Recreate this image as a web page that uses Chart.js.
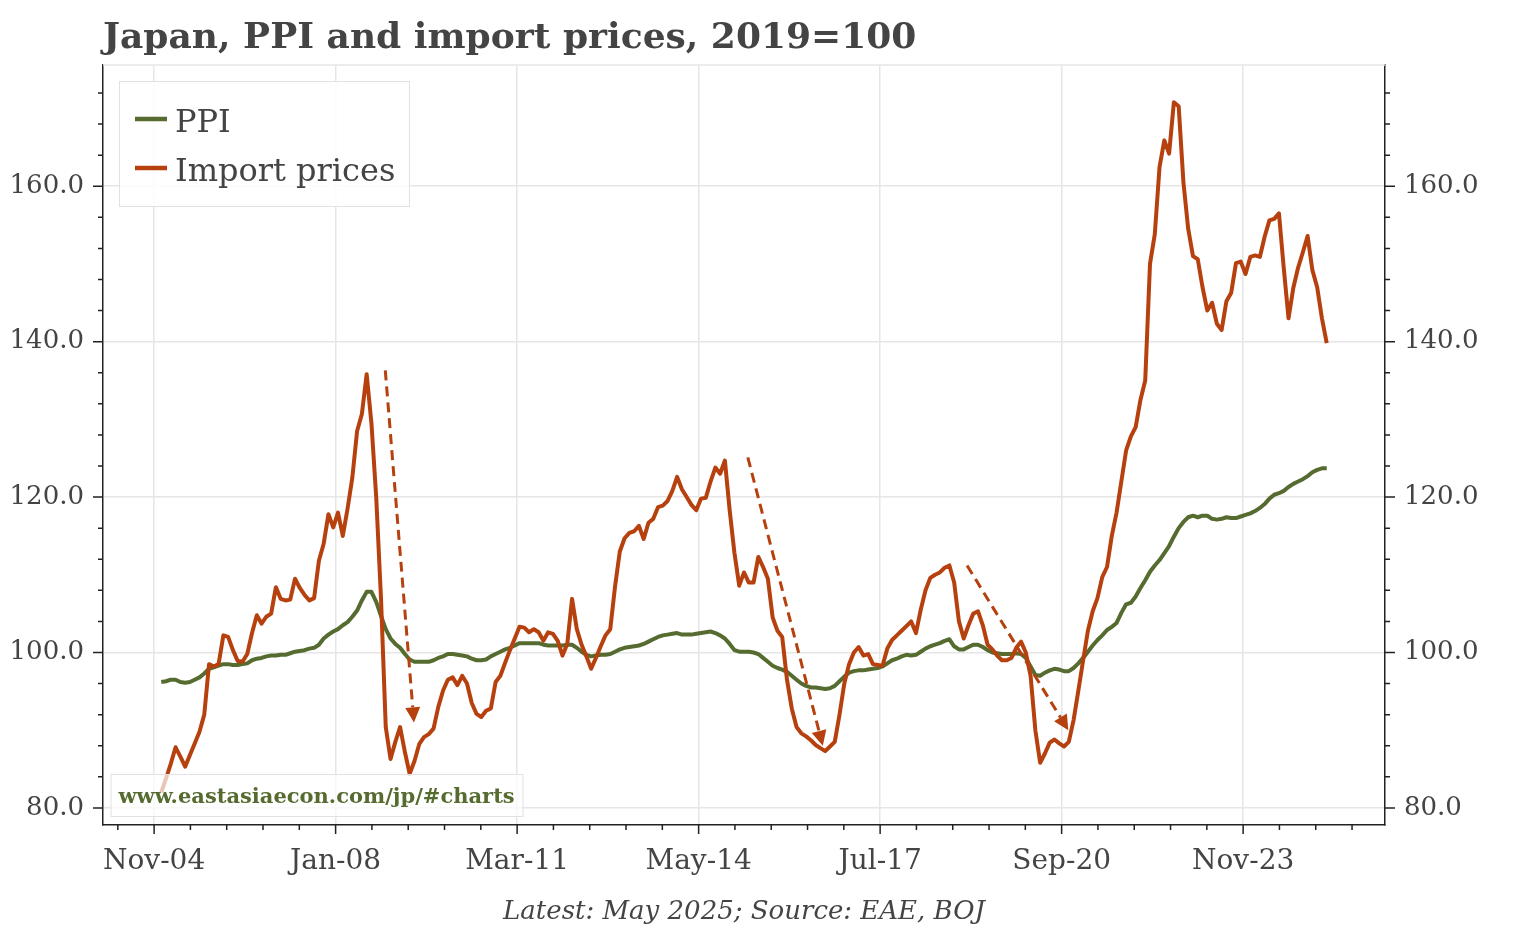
<!DOCTYPE html>
<html>
<head>
<meta charset="utf-8">
<title>Japan, PPI and import prices, 2019=100</title>
<script src="https://cdn.jsdelivr.net/npm/chart.js@4.4.1/dist/chart.umd.min.js"></script>
<style>
  html, body { margin: 0; padding: 0; background: #fff; }
  #wrap { width: 1534px; height: 930px; position: relative; }
</style>
</head>
<body>
<div id="wrap"><canvas id="chart"></canvas></div>
<script>
// monthly, Jan-05 .. May-25, 2019=100
const firstMonth = "2005-01";

const ppi = [
  96.2, 96.3, 96.5, 96.5, 96.2, 96.1, 96.2, 96.5, 96.8, 97.3, 97.9, 98.1,          // 2005
  98.3, 98.5, 98.5, 98.4, 98.4, 98.5, 98.6, 99.0, 99.2, 99.3, 99.5, 99.6,          // 2006
  99.6, 99.7, 99.7, 99.9, 100.1, 100.2, 100.3, 100.5, 100.6, 101.0, 101.8, 102.3,  // 2007
  102.7, 103.0, 103.5, 103.9, 104.6, 105.4, 106.7, 107.8, 107.8, 106.5, 104.7, 103.0, // 2008
  101.8, 101.1, 100.6, 99.8, 99.1, 98.8, 98.8, 98.8, 98.8, 99.0, 99.3, 99.5,       // 2009
  99.8, 99.8, 99.7, 99.6, 99.5, 99.2, 99.0, 99.0, 99.1, 99.5, 99.8, 100.1,         // 2010
  100.4, 100.6, 100.9, 101.2, 101.2, 101.2, 101.2, 101.2, 101.0, 100.9, 100.9, 100.9, // 2011
  100.9, 101.0, 101.0, 100.6, 100.1, 99.7, 99.5, 99.6, 99.7, 99.7, 99.8, 100.1,    // 2012
  100.4, 100.6, 100.7, 100.8, 100.9, 101.1, 101.4, 101.7, 102.0, 102.2, 102.3, 102.4, // 2013
  102.5, 102.3, 102.3, 102.3, 102.4, 102.5, 102.6, 102.7, 102.5, 102.2, 101.8, 101.1, // 2014
  100.3, 100.1, 100.1, 100.1, 100.0, 99.8, 99.3, 98.8, 98.3, 98.0, 97.8, 97.5,     // 2015
  97.0, 96.5, 96.0, 95.7, 95.5, 95.5, 95.4, 95.3, 95.4, 95.7, 96.3, 96.9,          // 2016
  97.4, 97.6, 97.7, 97.7, 97.8, 97.9, 98.0, 98.2, 98.6, 99.0, 99.2, 99.5,          // 2017
  99.7, 99.6, 99.7, 100.1, 100.5, 100.8, 101.0, 101.2, 101.5, 101.7, 100.8, 100.4, // 2018
  100.4, 100.7, 101.0, 101.0, 100.7, 100.3, 100.0, 99.9, 99.8, 99.8, 99.8, 99.9,   // 2019
  99.8, 99.3, 98.2, 97.1, 97.0, 97.4, 97.7, 97.9, 97.8, 97.6, 97.6, 98.0,          // 2020
  98.6, 99.3, 100.1, 100.9, 101.6, 102.2, 102.9, 103.3, 103.8, 105.1, 106.2, 106.4, // 2021
  107.2, 108.3, 109.3, 110.4, 111.2, 111.9, 112.8, 113.7, 114.9, 116.0, 116.8, 117.4, // 2022
  117.6, 117.4, 117.6, 117.6, 117.2, 117.1, 117.2, 117.4, 117.3, 117.3, 117.5, 117.7, // 2023
  117.9, 118.2, 118.6, 119.1, 119.8, 120.3, 120.5, 120.8, 121.3, 121.7, 122.0, 122.3, // 2024
  122.7, 123.2, 123.5, 123.7, 123.7                                                // 2025
];

const importPrices = [
  82.0, 83.8, 85.7, 87.8, 86.6, 85.3, 86.8, 88.3, 89.8, 92.0, 98.5, 98.2,          // 2005
  98.5, 102.2, 102.0, 100.3, 98.9, 98.8, 99.8, 102.5, 104.8, 103.7, 104.6, 105.0,  // 2006
  108.4, 106.9, 106.7, 106.8, 109.5, 108.3, 107.4, 106.7, 107.0, 111.8, 114.0, 117.8, // 2007
  116.1, 118.0, 115.0, 118.5, 122.5, 128.5, 130.7, 135.8, 129.5, 120.0, 107.0, 90.4, // 2008
  86.3, 88.5, 90.4, 87.2, 84.4, 86.0, 88.2, 89.1, 89.5, 90.2, 93.0, 95.1,          // 2009
  96.5, 96.8, 95.8, 97.0, 96.0, 93.5, 92.1, 91.7, 92.5, 92.8, 96.2, 97.0,          // 2010
  98.7, 100.3, 101.8, 103.3, 103.2, 102.6, 103.0, 102.6, 101.5, 102.6, 102.4, 101.5, // 2011
  99.6, 101.1, 106.9, 103.0, 101.0, 99.5, 97.9, 99.3, 100.8, 102.2, 103.0, 108.5,  // 2012
  113.0, 114.7, 115.4, 115.6, 116.3, 114.6, 116.7, 117.2, 118.7, 118.9, 119.5, 120.8, // 2013
  122.6, 121.0, 120.0, 119.0, 118.3, 119.8, 119.9, 122.0, 123.8, 123.0, 124.7, 118.3, // 2014
  112.8, 108.6, 110.3, 109.0, 109.0, 112.3, 111.0, 109.5, 104.5, 102.8, 102.0, 96.5, // 2015
  92.8, 90.4, 89.6, 89.2, 88.7, 88.1, 87.7, 87.3, 87.9, 88.5, 92.0, 96.0,          // 2016
  98.5, 100.0, 100.7, 99.6, 99.8, 98.5, 98.4, 98.3, 100.5, 101.6, 102.2, 102.8,    // 2017
  103.4, 104.0, 102.5, 105.5, 108.0, 109.6, 110.0, 110.3, 110.9, 111.2, 109.0, 104.0, // 2018
  101.8, 103.5, 105.0, 105.3, 103.5, 101.0, 100.4, 99.6, 99.0, 99.0, 99.3, 100.6,  // 2019
  101.4, 100.0, 97.0, 90.0, 85.8, 87.0, 88.4, 88.8, 88.3, 87.9, 88.5, 91.3,        // 2020
  95.1, 99.0, 102.8, 105.3, 107.0, 109.7, 111.0, 115.0, 118.0, 122.0, 126.0, 127.8, // 2021
  129.0, 132.5, 135.0, 150.0, 153.8, 162.5, 165.9, 164.2, 170.8, 170.3, 160.5, 154.5, // 2022
  151.0, 150.6, 147.0, 144.0, 145.0, 142.3, 141.5, 145.2, 146.3, 150.1, 150.3, 148.7, // 2023
  150.9, 151.1, 150.9, 153.5, 155.6, 155.8, 156.5, 149.5, 143.0, 146.9, 149.5, 151.5, // 2024
  153.6, 149.2, 147.0, 143.0, 139.8                                                // 2025
];

const seriesNames = ["PPI", "Import prices"];
const xTickLabels = ["Nov-04", "Jan-08", "Mar-11", "May-14", "Jul-17", "Sep-20", "Nov-23"];
const yTickValues = [80, 100, 120, 140, 160];

// dashed arrows: [from month no., from value, to month no., to value]
const arrows = [
  [48.9, 136.3, 54.9, 91.0],
  [124.8, 125.1, 140.5, 88.0],
  [170.7, 111.2, 191.9, 90.0]
];

const GREEN = "#556b2f";
const RUST = "#b7410e";
const TEXT = "#444";
const GRID = "#e6e6e6";
const AXIS = "#222";
const FONT = "'DejaVu Serif', 'Liberation Serif', serif";

const MON = ["Jan","Feb","Mar","Apr","May","Jun","Jul","Aug","Sep","Oct","Nov","Dec"];

// month number counted from Nov 2004
const monthNo = (year, mon) => (year - 2004) * 12 + (mon - 11);
const start = monthNo(+firstMonth.slice(0, 4), +firstMonth.slice(5, 7));
// tick labels sit mid-month
const tickPos = (lbl) => monthNo(2000 + +lbl.slice(4), MON.indexOf(lbl.slice(0, 3)) + 1) + 0.5;
const xMajors = xTickLabels.map(tickPos);

const toPoints = (arr) => arr.map((v, i) => ({ x: start + i, y: v }));

const Y_MIN = 77.8, Y_MAX = 175.6;
const X_MIN = start - 12.2, X_MAX = start + ppi.length - 1 + 12.2;

function drawArrow(ctx, x0, y0, x1, y1){
  const dx = x1 - x0, dy = y1 - y0, len = Math.hypot(dx, dy);
  const ux = dx / len, uy = dy / len;
  const headL = 15, headW = 7.5;
  const bx = x1 - ux * headL, by = y1 - uy * headL;
  ctx.setLineDash([10, 6]);
  ctx.beginPath(); ctx.moveTo(x0, y0); ctx.lineTo(bx, by); ctx.stroke();
  ctx.setLineDash([]);
  ctx.beginPath();
  ctx.moveTo(x1, y1);
  ctx.lineTo(bx - uy * headW, by + ux * headW);
  ctx.lineTo(bx + uy * headW, by - ux * headW);
  ctx.closePath(); ctx.fill();
}

const decor = {
  id: "decor",
  beforeDraw(chart){
    const ctx = chart.ctx;
    ctx.save();
    ctx.fillStyle = "#fff";
    ctx.fillRect(0, 0, chart.width, chart.height);
    ctx.restore();
  },
  afterDatasetsDraw(chart){
    const { ctx, scales: { x, y } } = chart;
    ctx.save();
    ctx.strokeStyle = RUST; ctx.fillStyle = RUST; ctx.lineWidth = 3;
    arrows.forEach(a => drawArrow(ctx,
      x.getPixelForValue(a[0]), y.getPixelForValue(a[1]),
      x.getPixelForValue(a[2]), y.getPixelForValue(a[3])));
    ctx.restore();
  },
  afterDraw(chart){
    const { ctx, chartArea: area, scales: { x, y } } = chart;
    ctx.save();

    // top spine
    ctx.strokeStyle = GRID; ctx.lineWidth = 1.5;
    ctx.beginPath(); ctx.moveTo(area.left, area.top); ctx.lineTo(area.right, area.top); ctx.stroke();

    // tick marks, major + minor
    ctx.strokeStyle = AXIS; ctx.lineWidth = 1.5;
    ctx.beginPath();
    const xStep = (xMajors[1] - xMajors[0]) / 5;
    for (let i = -10; i < 200; i++) {
      const v = xMajors[0] + i * xStep;
      if (v < X_MIN || v > X_MAX) continue;
      const px = x.getPixelForValue(v);
      const len = (i % 5 === 0) ? 9 : 5;
      ctx.moveTo(px, area.bottom); ctx.lineTo(px, area.bottom + len);
    }
    for (let v = yTickValues[0]; v <= Y_MAX; v += 4) {
      const py = y.getPixelForValue(v);
      const len = ((v - yTickValues[0]) % 20 === 0) ? 10 : 5;
      ctx.moveTo(area.left, py); ctx.lineTo(area.left - len, py);
      ctx.moveTo(area.right, py); ctx.lineTo(area.right + len, py);
    }
    ctx.stroke();

    // legend
    const lx = area.left + 16, ly = area.top + 16;
    ctx.fillStyle = "rgba(255,255,255,0.85)";
    ctx.fillRect(lx, ly, 290, 125);
    ctx.strokeStyle = "#e2e2e2"; ctx.lineWidth = 1;
    ctx.strokeRect(lx + 0.5, ly + 0.5, 290, 125);
    ctx.font = "32px " + FONT;
    ctx.textBaseline = "alphabetic";
    [GREEN, RUST].forEach((c, i) => {
      const cy = ly + 38 + i * 49;
      ctx.strokeStyle = c; ctx.lineWidth = 4.5;
      ctx.beginPath(); ctx.moveTo(lx + 16, cy); ctx.lineTo(lx + 48, cy); ctx.stroke();
      ctx.fillStyle = TEXT;
      ctx.fillText(seriesNames[i], lx + 56, cy + 12.5);
    });

    // site box
    const bx = area.left + 7.5, by = area.bottom - 51;
    ctx.fillStyle = "rgba(255,255,255,0.7)";
    ctx.fillRect(bx, by, 412, 42);
    ctx.strokeStyle = "#e2e2e2"; ctx.lineWidth = 1;
    ctx.strokeRect(bx + 0.5, by + 0.5, 412, 42);
    ctx.fillStyle = GREEN;
    ctx.font = "bold 21px " + FONT;
    ctx.fillText("www.eastasiaecon.com/jp/#charts", bx + 8, by + 29);

    // title + source
    ctx.fillStyle = TEXT;
    ctx.font = "bold 36px " + FONT;
    ctx.textAlign = "left";
    ctx.fillText("Japan, PPI and import prices, 2019=100", area.left, 48);
    ctx.font = "italic 26px " + FONT;
    ctx.textAlign = "center";
    ctx.fillText("Latest: May 2025; Source: EAE, BOJ", (area.left + area.right) / 2, 919);
    ctx.restore();
  }
};

const yAxis = (pos, width) => ({
  position: pos,
  min: Y_MIN,
  max: Y_MAX,
  afterBuildTicks: s => { s.ticks = yTickValues.map(v => ({ value: v })); },
  afterFit: s => { s.width = width; },
  ticks: {
    callback: v => Number(v).toFixed(1),
    color: TEXT,
    font: { size: 26, family: FONT },
    padding: 19
  },
  grid: { color: GRID, lineWidth: 1.5, drawTicks: false, drawOnChartArea: pos === "left" },
  border: { color: AXIS, width: 1.5 }
});

new Chart(document.getElementById("chart"), {
  type: "line",
  data: {
    datasets: [
      {
        label: seriesNames[0],
        data: toPoints(ppi),
        borderColor: GREEN,
        borderWidth: 4,
        pointRadius: 0,
        borderJoinStyle: "round",
        order: 1
      },
      {
        label: seriesNames[1],
        data: toPoints(importPrices),
        borderColor: RUST,
        borderWidth: 4,
        pointRadius: 0,
        borderJoinStyle: "round",
        order: 0
      }
    ]
  },
  options: {
    responsive: true,
    maintainAspectRatio: false,
    animation: false,
    layout: { padding: { top: 65, left: 0, right: 0, bottom: 0 } },
    plugins: {
      legend: { display: false },
      tooltip: { enabled: false },
      title: { display: false }
    },
    scales: {
      x: {
        type: "linear",
        min: X_MIN,
        max: X_MAX,
        afterBuildTicks: s => { s.ticks = xMajors.map(v => ({ value: v })); },
        afterFit: s => { s.height = 105; },
        ticks: {
          callback: (v, i) => xTickLabels[i],
          autoSkip: false,
          maxRotation: 0,
          color: TEXT,
          font: { size: 28, family: FONT },
          padding: 20
        },
        grid: { color: GRID, lineWidth: 1.5, drawTicks: false },
        border: { color: AXIS, width: 1.5 }
      },
      y: yAxis("left", 103),
      y2: yAxis("right", 149)
    }
  },
  plugins: [decor]
});
</script>
</body>
</html>
